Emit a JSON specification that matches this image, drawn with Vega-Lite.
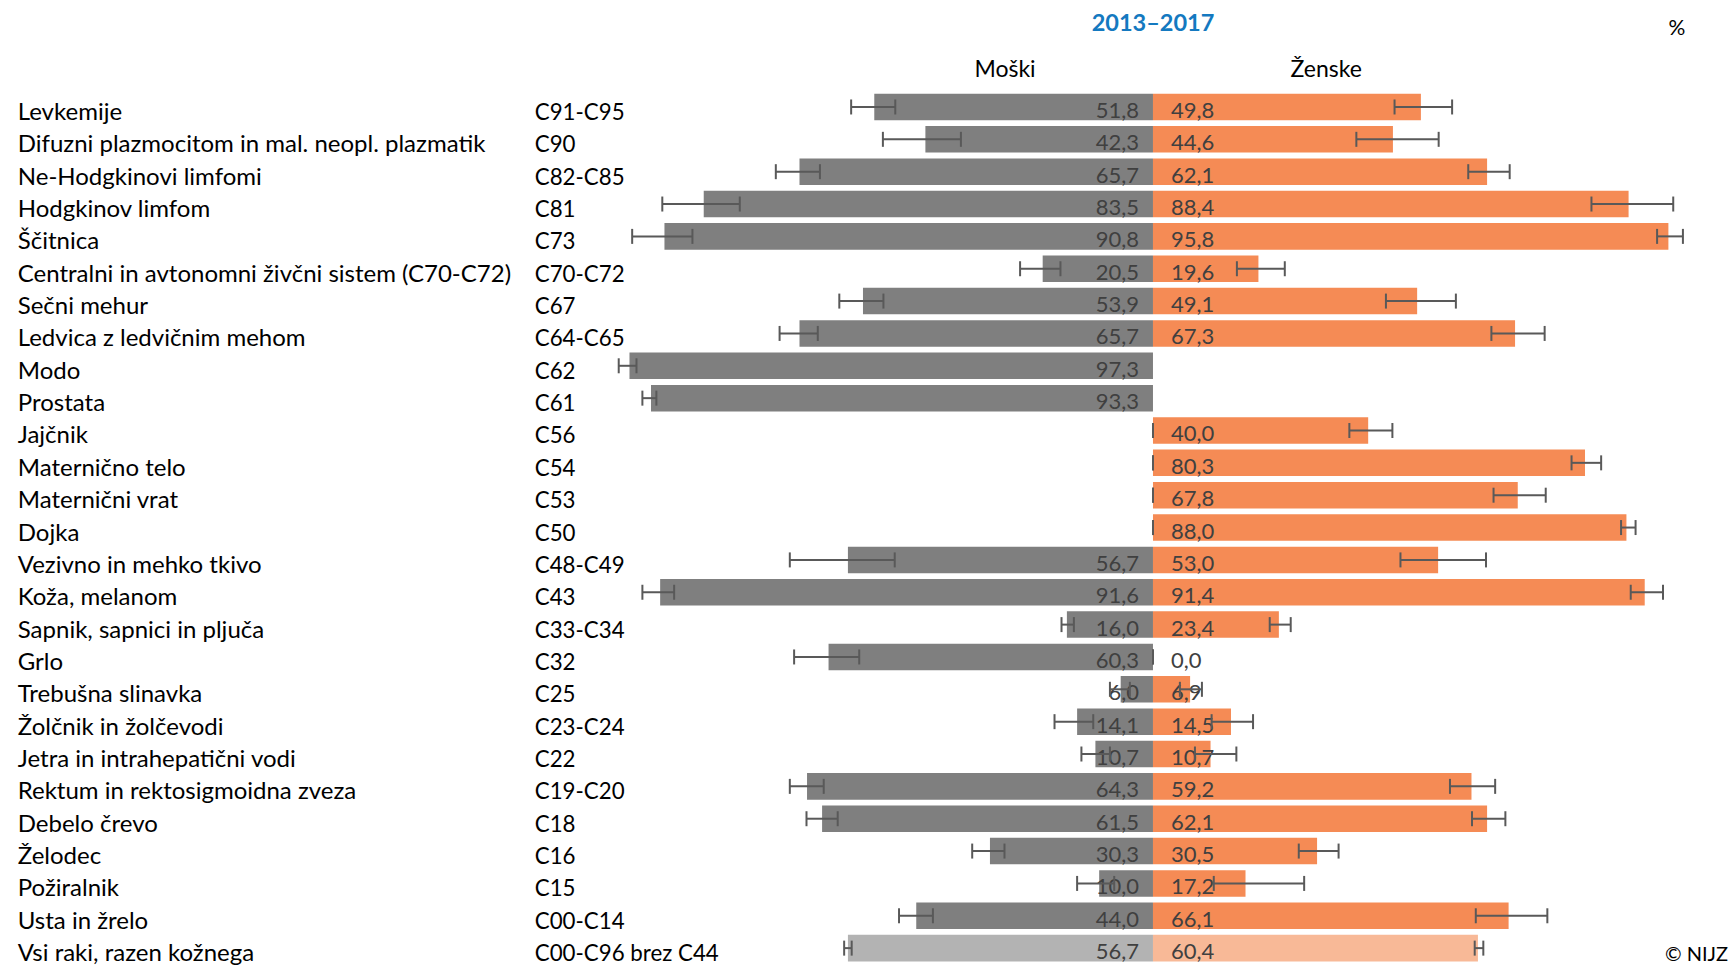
{
  "$schema": "https://vega.github.io/schema/vega-lite/v6.json",
  "width": 1730,
  "height": 873.5,
  "autosize": {"type": "none"},
  "padding": {"top": 90.8, "left": 0, "right": 0, "bottom": 1.7},
  "background": "white",
  "config": {
    "view": {"stroke": null},
    "locale": {"number": {"decimal": ",", "thousands": ".", "grouping": [3], "currency": ["", " €"]}},
    "text": {"font": "Lato"}
  },
  "datasets": {
    "rows": [
      {"name": "Levkemije", "code": "C91-C95", "sex": "M", "value": 51.8, "lo": 47.9, "hi": 56.1},
      {"name": "Levkemije", "code": "C91-C95", "sex": "F", "value": 49.8, "lo": 44.9, "hi": 55.6},
      {"name": "Difuzni plazmocitom in mal. neopl. plazmatik", "code": "C90", "sex": "M", "value": 42.3, "lo": 35.7, "hi": 50.2},
      {"name": "Difuzni plazmocitom in mal. neopl. plazmatik", "code": "C90", "sex": "F", "value": 44.6, "lo": 37.8, "hi": 53.1},
      {"name": "Ne-Hodgkinovi limfomi", "code": "C82-C85", "sex": "M", "value": 65.7, "lo": 61.9, "hi": 70.1},
      {"name": "Ne-Hodgkinovi limfomi", "code": "C82-C85", "sex": "F", "value": 62.1, "lo": 58.6, "hi": 66.3},
      {"name": "Hodgkinov limfom", "code": "C81", "sex": "M", "value": 83.5, "lo": 76.8, "hi": 91.2},
      {"name": "Hodgkinov limfom", "code": "C81", "sex": "F", "value": 88.4, "lo": 81.5, "hi": 96.7},
      {"name": "Ščitnica", "code": "C73", "sex": "M", "value": 90.8, "lo": 85.6, "hi": 96.8},
      {"name": "Ščitnica", "code": "C73", "sex": "F", "value": 95.8, "lo": 93.7, "hi": 98.5},
      {"name": "Centralni in avtonomni živčni sistem (C70-C72)", "code": "C70-C72", "sex": "M", "value": 20.5, "lo": 17.2, "hi": 24.7},
      {"name": "Centralni in avtonomni živčni sistem (C70-C72)", "code": "C70-C72", "sex": "F", "value": 19.6, "lo": 15.6, "hi": 24.5},
      {"name": "Sečni mehur", "code": "C67", "sex": "M", "value": 53.9, "lo": 50.1, "hi": 58.3},
      {"name": "Sečni mehur", "code": "C67", "sex": "F", "value": 49.1, "lo": 43.3, "hi": 56.3},
      {"name": "Ledvica z ledvičnim mehom", "code": "C64-C65", "sex": "M", "value": 65.7, "lo": 62.3, "hi": 69.4},
      {"name": "Ledvica z ledvičnim mehom", "code": "C64-C65", "sex": "F", "value": 67.3, "lo": 62.9, "hi": 72.8},
      {"name": "Modo", "code": "C62", "sex": "M", "value": 97.3, "lo": 96.0, "hi": 99.3},
      {"name": "Modo", "code": "C62", "sex": "F", "value": null, "lo": null, "hi": null},
      {"name": "Prostata", "code": "C61", "sex": "M", "value": 93.3, "lo": 92.3, "hi": 94.9},
      {"name": "Prostata", "code": "C61", "sex": "F", "value": null, "lo": null, "hi": null},
      {"name": "Jajčnik", "code": "C56", "sex": "M", "value": null, "lo": 0, "hi": 0},
      {"name": "Jajčnik", "code": "C56", "sex": "F", "value": 40.0, "lo": 36.5, "hi": 44.5},
      {"name": "Maternično telo", "code": "C54", "sex": "M", "value": null, "lo": 0, "hi": 0},
      {"name": "Maternično telo", "code": "C54", "sex": "F", "value": 80.3, "lo": 77.8, "hi": 83.3},
      {"name": "Maternični vrat", "code": "C53", "sex": "M", "value": null, "lo": 0, "hi": 0},
      {"name": "Maternični vrat", "code": "C53", "sex": "F", "value": 67.8, "lo": 63.3, "hi": 73.0},
      {"name": "Dojka", "code": "C50", "sex": "M", "value": null, "lo": 0, "hi": 0},
      {"name": "Dojka", "code": "C50", "sex": "F", "value": 88.0, "lo": 87.0, "hi": 89.7},
      {"name": "Vezivno in mehko tkivo", "code": "C48-C49", "sex": "M", "value": 56.7, "lo": 48.0, "hi": 67.5},
      {"name": "Vezivno in mehko tkivo", "code": "C48-C49", "sex": "F", "value": 53.0, "lo": 46.0, "hi": 61.9},
      {"name": "Koža, melanom", "code": "C43", "sex": "M", "value": 91.6, "lo": 89.0, "hi": 94.9},
      {"name": "Koža, melanom", "code": "C43", "sex": "F", "value": 91.4, "lo": 88.8, "hi": 94.8},
      {"name": "Sapnik, sapnici in pljuča", "code": "C33-C34", "sex": "M", "value": 16.0, "lo": 14.7, "hi": 17.0},
      {"name": "Sapnik, sapnici in pljuča", "code": "C33-C34", "sex": "F", "value": 23.4, "lo": 21.7, "hi": 25.6},
      {"name": "Grlo", "code": "C32", "sex": "M", "value": 60.3, "lo": 54.6, "hi": 66.7},
      {"name": "Grlo", "code": "C32", "sex": "F", "value": 0.0, "lo": 0, "hi": 0},
      {"name": "Trebušna slinavka", "code": "C25", "sex": "M", "value": 6.0, "lo": 4.3, "hi": 8.0},
      {"name": "Trebušna slinavka", "code": "C25", "sex": "F", "value": 6.9, "lo": 5.0, "hi": 9.1},
      {"name": "Žolčnik in žolčevodi", "code": "C23-C24", "sex": "M", "value": 14.1, "lo": 11.1, "hi": 18.3},
      {"name": "Žolčnik in žolčevodi", "code": "C23-C24", "sex": "F", "value": 14.5, "lo": 10.9, "hi": 18.6},
      {"name": "Jetra in intrahepatični vodi", "code": "C22", "sex": "M", "value": 10.7, "lo": 8.0, "hi": 13.3},
      {"name": "Jetra in intrahepatični vodi", "code": "C22", "sex": "F", "value": 10.7, "lo": 7.8, "hi": 15.5},
      {"name": "Rektum in rektosigmoidna zveza", "code": "C19-C20", "sex": "M", "value": 64.3, "lo": 61.2, "hi": 67.5},
      {"name": "Rektum in rektosigmoidna zveza", "code": "C19-C20", "sex": "F", "value": 59.2, "lo": 55.2, "hi": 63.6},
      {"name": "Debelo črevo", "code": "C18", "sex": "M", "value": 61.5, "lo": 58.6, "hi": 64.4},
      {"name": "Debelo črevo", "code": "C18", "sex": "F", "value": 62.1, "lo": 59.3, "hi": 65.5},
      {"name": "Želodec", "code": "C16", "sex": "M", "value": 30.3, "lo": 27.6, "hi": 33.6},
      {"name": "Želodec", "code": "C16", "sex": "F", "value": 30.5, "lo": 27.1, "hi": 34.5},
      {"name": "Požiralnik", "code": "C15", "sex": "M", "value": 10.0, "lo": 7.2, "hi": 14.1},
      {"name": "Požiralnik", "code": "C15", "sex": "F", "value": 17.2, "lo": 11.3, "hi": 28.1},
      {"name": "Usta in žrelo", "code": "C00-C14", "sex": "M", "value": 44.0, "lo": 40.9, "hi": 47.2},
      {"name": "Usta in žrelo", "code": "C00-C14", "sex": "F", "value": 66.1, "lo": 60.0, "hi": 73.3},
      {"name": "Vsi raki, razen kožnega", "code": "C00-C96 brez C44", "sex": "M", "value": 56.7, "lo": 56.0, "hi": 57.4},
      {"name": "Vsi raki, razen kožnega", "code": "C00-C96 brez C44", "sex": "F", "value": 60.4, "lo": 59.8, "hi": 61.4}
    ],
    "notes": [{"title": "2013–2017", "unit": "%", "credit": "© NIJZ"}]
  },
  "data": {"name": "rows"},
  "encoding": {
    "y": {
      "field": "name", "type": "nominal", "axis": null,
      "scale": {
        "domain": ["Levkemije", "Difuzni plazmocitom in mal. neopl. plazmatik", "Ne-Hodgkinovi limfomi", "Hodgkinov limfom", "Ščitnica", "Centralni in avtonomni živčni sistem (C70-C72)", "Sečni mehur", "Ledvica z ledvičnim mehom", "Modo", "Prostata", "Jajčnik", "Maternično telo", "Maternični vrat", "Dojka", "Vezivno in mehko tkivo", "Koža, melanom", "Sapnik, sapnici in pljuča", "Grlo", "Trebušna slinavka", "Žolčnik in žolčevodi", "Jetra in intrahepatični vodi", "Rektum in rektosigmoidna zveza", "Debelo črevo", "Želodec", "Požiralnik", "Usta in žrelo", "Vsi raki, razen kožnega"],
        "paddingInner": 0.18, "paddingOuter": 0.09
      }
    }
  },
  "resolve": {"scale": {"x": "independent"}},
  "layer": [
    {
      "transform": [{"filter": "datum.sex == 'M' && datum.value != null"}],
      "mark": {"type": "bar"},
      "encoding": {
        "x": {"field": "value", "type": "quantitative", "axis": null, "scale": {"domain": [-107.25, 214.3], "reverse": true, "nice": false, "zero": false}},
        "color": {"condition": {"test": "datum.code == 'C00-C96 brez C44'", "value": "#b3b3b3"}, "value": "#7f7f7f"}
      }
    },
    {
      "transform": [{"filter": "datum.sex == 'F' && datum.value != null"}],
      "mark": {"type": "bar"},
      "encoding": {
        "x": {"field": "value", "type": "quantitative", "scale": {"domain": [-214.3, 107.25], "nice": false, "zero": false},
          "axis": {"orient": "top", "values": [-27.6, 32.1], "labelExpr": "datum.value < 0 ? 'Moški' : 'Ženske'", "domain": false, "ticks": false, "grid": false, "title": null, "labelFont": "Lato", "labelFontSize": 23, "labelColor": "#000000", "labelBaseline": "middle", "labelAlign": "center", "labelPadding": 21}},
        "color": {"condition": {"test": "datum.code == 'C00-C96 brez C44'", "value": "#f8b997"}, "value": "#f58b55"}
      }
    },
    {
      "transform": [{"filter": "datum.sex == 'M' && datum.value != null"}],
      "mark": {"type": "text", "align": "right", "baseline": "middle", "dx": -14, "dy": 4, "fontSize": 22, "color": "#404040"},
      "encoding": {
        "x": {"datum": 0, "type": "quantitative", "axis": null, "scale": {"domain": [-107.25, 214.3], "reverse": true, "nice": false, "zero": false}},
        "text": {"field": "value", "type": "quantitative", "format": ".1f"}
      }
    },
    {
      "transform": [{"filter": "datum.sex == 'F' && datum.value != null"}],
      "mark": {"type": "text", "align": "left", "baseline": "middle", "dx": 18, "dy": 4, "fontSize": 22, "color": "#404040"},
      "encoding": {
        "x": {"datum": 0, "type": "quantitative", "axis": null, "scale": {"domain": [-214.3, 107.25], "nice": false, "zero": false}},
        "text": {"field": "value", "type": "quantitative", "format": ".1f"}
      }
    },
    {
      "transform": [{"filter": "datum.sex == 'M' && datum.lo != null"}],
      "mark": {"type": "rule", "color": "#595959", "strokeWidth": 2},
      "encoding": {
        "x": {"field": "lo", "type": "quantitative", "axis": null, "scale": {"domain": [-107.25, 214.3], "reverse": true, "nice": false, "zero": false}},
        "x2": {"field": "hi"}
      }
    },
    {
      "transform": [{"filter": "datum.sex == 'M' && datum.lo != null"}],
      "mark": {"type": "tick", "color": "#595959", "thickness": 2, "size": 15, "opacity": 1},
      "encoding": {
        "x": {"field": "lo", "type": "quantitative", "axis": null, "scale": {"domain": [-107.25, 214.3], "reverse": true, "nice": false, "zero": false}}
      }
    },
    {
      "transform": [{"filter": "datum.sex == 'M' && datum.hi != null"}],
      "mark": {"type": "tick", "color": "#595959", "thickness": 2, "size": 15, "opacity": 1},
      "encoding": {
        "x": {"field": "hi", "type": "quantitative", "axis": null, "scale": {"domain": [-107.25, 214.3], "reverse": true, "nice": false, "zero": false}}
      }
    },
    {
      "transform": [{"filter": "datum.sex == 'F' && datum.lo != null"}],
      "mark": {"type": "rule", "color": "#595959", "strokeWidth": 2},
      "encoding": {
        "x": {"field": "lo", "type": "quantitative", "axis": null, "scale": {"domain": [-214.3, 107.25], "nice": false, "zero": false}},
        "x2": {"field": "hi"}
      }
    },
    {
      "transform": [{"filter": "datum.sex == 'F' && datum.lo != null"}],
      "mark": {"type": "tick", "color": "#595959", "thickness": 2, "size": 15, "opacity": 1},
      "encoding": {
        "x": {"field": "lo", "type": "quantitative", "axis": null, "scale": {"domain": [-214.3, 107.25], "nice": false, "zero": false}}
      }
    },
    {
      "transform": [{"filter": "datum.sex == 'F' && datum.hi != null"}],
      "mark": {"type": "tick", "color": "#595959", "thickness": 2, "size": 15, "opacity": 1},
      "encoding": {
        "x": {"field": "hi", "type": "quantitative", "axis": null, "scale": {"domain": [-214.3, 107.25], "nice": false, "zero": false}}
      }
    },
    {
      "transform": [{"filter": "datum.sex == 'M'"}],
      "mark": {"type": "text", "align": "left", "baseline": "middle", "dy": 6, "fontSize": 24, "color": "#000000"},
      "encoding": {
        "x": {"datum": -211.0, "type": "quantitative", "axis": null, "scale": {"domain": [-214.3, 107.25], "nice": false, "zero": false}},
        "text": {"field": "name"}
      }
    },
    {
      "transform": [{"filter": "datum.sex == 'M'"}],
      "mark": {"type": "text", "align": "left", "baseline": "middle", "dy": 6, "fontSize": 22.3, "color": "#000000"},
      "encoding": {
        "x": {"datum": -114.9, "type": "quantitative", "axis": null, "scale": {"domain": [-214.3, 107.25], "nice": false, "zero": false}},
        "text": {"field": "code"}
      }
    },
    {
      "data": {"name": "notes"},
      "mark": {"type": "text", "align": "center", "baseline": "middle", "dy": -83, "fontSize": 23.5, "fontWeight": "bold", "color": "#1479c0"},
      "encoding": {
        "x": {"datum": 0, "type": "quantitative", "axis": null, "scale": {"domain": [-214.3, 107.25], "nice": false, "zero": false}},
        "y": {"datum": "Levkemije"},
        "text": {"field": "title"}
      }
    },
    {
      "data": {"name": "notes"},
      "mark": {"type": "text", "align": "center", "baseline": "middle", "dy": -78, "fontSize": 21, "color": "#000000"},
      "encoding": {
        "x": {"datum": 97.4, "type": "quantitative", "axis": null, "scale": {"domain": [-214.3, 107.25], "nice": false, "zero": false}},
        "y": {"datum": "Levkemije"},
        "text": {"field": "unit"}
      }
    },
    {
      "data": {"name": "notes"},
      "mark": {"type": "text", "align": "right", "baseline": "middle", "dy": 7, "fontSize": 20, "color": "#000000"},
      "encoding": {
        "x": {"datum": 106.9, "type": "quantitative", "axis": null, "scale": {"domain": [-214.3, 107.25], "nice": false, "zero": false}},
        "y": {"datum": "Vsi raki, razen kožnega"},
        "text": {"field": "credit"}
      }
    }
  ]
}
